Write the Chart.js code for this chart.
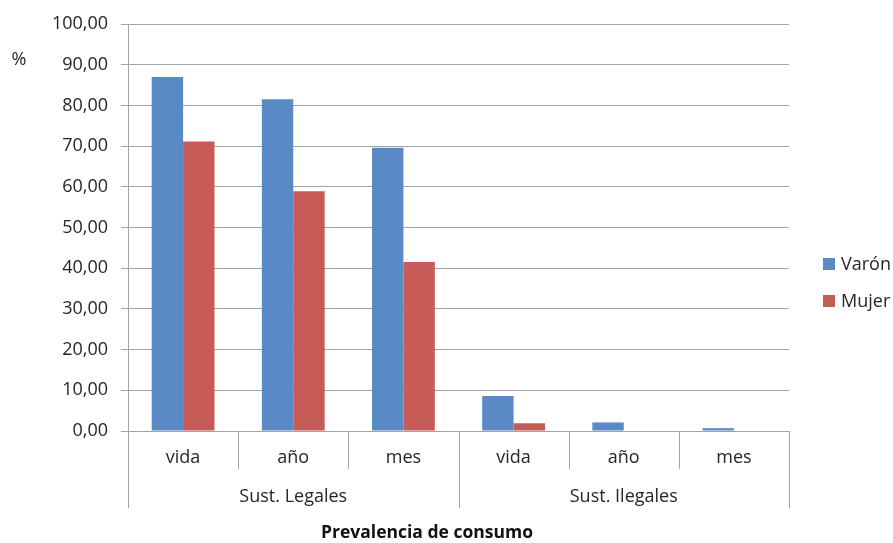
<!DOCTYPE html>
<html>
<head>
<meta charset="utf-8">
<script src="https://cdn.jsdelivr.net/npm/chart.js@4.4.1/dist/chart.umd.min.js"></script>
<style>
  html, body { margin: 0; padding: 0; background: #ffffff; }
  #wrap { width: 893px; height: 543px; position: relative; }
</style>
</head>
<body>
<div id="wrap"><canvas id="chart" width="893" height="543"></canvas></div>
<script>
// Prevalencia de consumo por sexo (%)
const categories = ['vida', 'año', 'mes', 'vida', 'año', 'mes'];
const groupLabels = ['Sust. Legales', 'Sust. Ilegales'];
const groupSizes = [3, 3];
const varon = [87.0, 81.5, 69.6, 8.6, 2.1, 0.7];
const mujer = [71.1, 58.9, 41.5, 1.9, 0.0, 0.0];
const seriesNames = ['Varón', 'Mujer'];
const seriesColors = ['#5A8AC6', '#C65B58'];
const axisTitle = 'Prevalencia de consumo';
const unitLabel = '%';

const FONT = "'Open Sans', 'DejaVu Sans', sans-serif";
const TEXT = '#262626';
const GRID = '#A3A3A3';

// Category separators, group row, axis title, unit label and legend
const decorations = {
  id: 'decorations',
  afterDraw(chart) {
    const ctx = chart.ctx;
    const xs = chart.scales.x;
    const top = xs.top;
    ctx.save();
    ctx.strokeStyle = GRID;
    ctx.lineWidth = 1;
    const groupEdges = [0];
    groupSizes.reduce((acc, n) => { acc += n; groupEdges.push(acc); return acc; }, 0);
    for (let i = 0; i <= categories.length; i++) {
      const x = Math.round(xs.getPixelForValue(i - 0.5)) + 0.5;
      const isGroupEdge = groupEdges.includes(i);
      ctx.beginPath();
      ctx.moveTo(x, top);
      ctx.lineTo(x, top + (isGroupEdge ? 77 : 38));
      ctx.stroke();
    }
    ctx.fillStyle = TEXT;
    ctx.font = "18px " + FONT;
    ctx.textAlign = 'center';
    ctx.textBaseline = 'middle';
    let start = 0;
    groupLabels.forEach((label, g) => {
      const end = start + groupSizes[g];
      const x0 = xs.getPixelForValue(start - 0.5);
      const x1 = xs.getPixelForValue(end - 0.5);
      ctx.fillText(label, (x0 + x1) / 2, top + 66);
      start = end;
    });
    // axis title
    ctx.font = "bold 17.5px " + FONT;
    ctx.fillStyle = '#111111';
    ctx.fillText(axisTitle, 427, 533);
    // unit label
    ctx.font = "18px " + FONT;
    ctx.fillStyle = TEXT;
    ctx.fillText(unitLabel, 19, 60);
    // legend
    ctx.textAlign = 'left';
    seriesNames.forEach((name, i) => {
      const cy = 264 + i * 37;
      ctx.fillStyle = seriesColors[i];
      ctx.fillRect(823, cy - 6, 12, 12);
      ctx.fillStyle = TEXT;
      ctx.fillText(name, 841, cy + 1);
    });
    ctx.restore();
  }
};

new Chart(document.getElementById('chart'), {
  type: 'bar',
  data: {
    labels: categories,
    datasets: [
      { label: seriesNames[0], data: varon, backgroundColor: seriesColors[0] },
      { label: seriesNames[1], data: mujer, backgroundColor: seriesColors[1] }
    ]
  },
  options: {
    responsive: false,
    animation: false,
    events: [],
    layout: { padding: { top: 24, right: 104, left: 0, bottom: 0 } },
    datasets: { bar: { barPercentage: 1.0, categoryPercentage: 0.57 } },
    plugins: {
      legend: { display: false },
      tooltip: { enabled: false },
      title: { display: false }
    },
    scales: {
      x: {
        grid: { display: false },
        border: { display: true, color: GRID },
        ticks: {
          color: TEXT,
          font: { family: FONT, size: 18 },
          padding: 8,
          maxRotation: 0,
          autoSkip: false
        },
        afterFit(scale) { scale.height = 112; }
      },
      y: {
        min: 0,
        max: 100,
        grid: { color: GRID, lineWidth: 1, drawTicks: true, tickLength: 7 },
        border: { display: true, color: GRID },
        ticks: {
          stepSize: 10,
          color: TEXT,
          padding: 13,
          font: { family: FONT, size: 18 },
          callback: (v) => v.toFixed(2).replace('.', ',')
        },
        afterFit(scale) { scale.width = 128; }
      }
    }
  },
  plugins: [decorations]
});
</script>
</body>
</html>
